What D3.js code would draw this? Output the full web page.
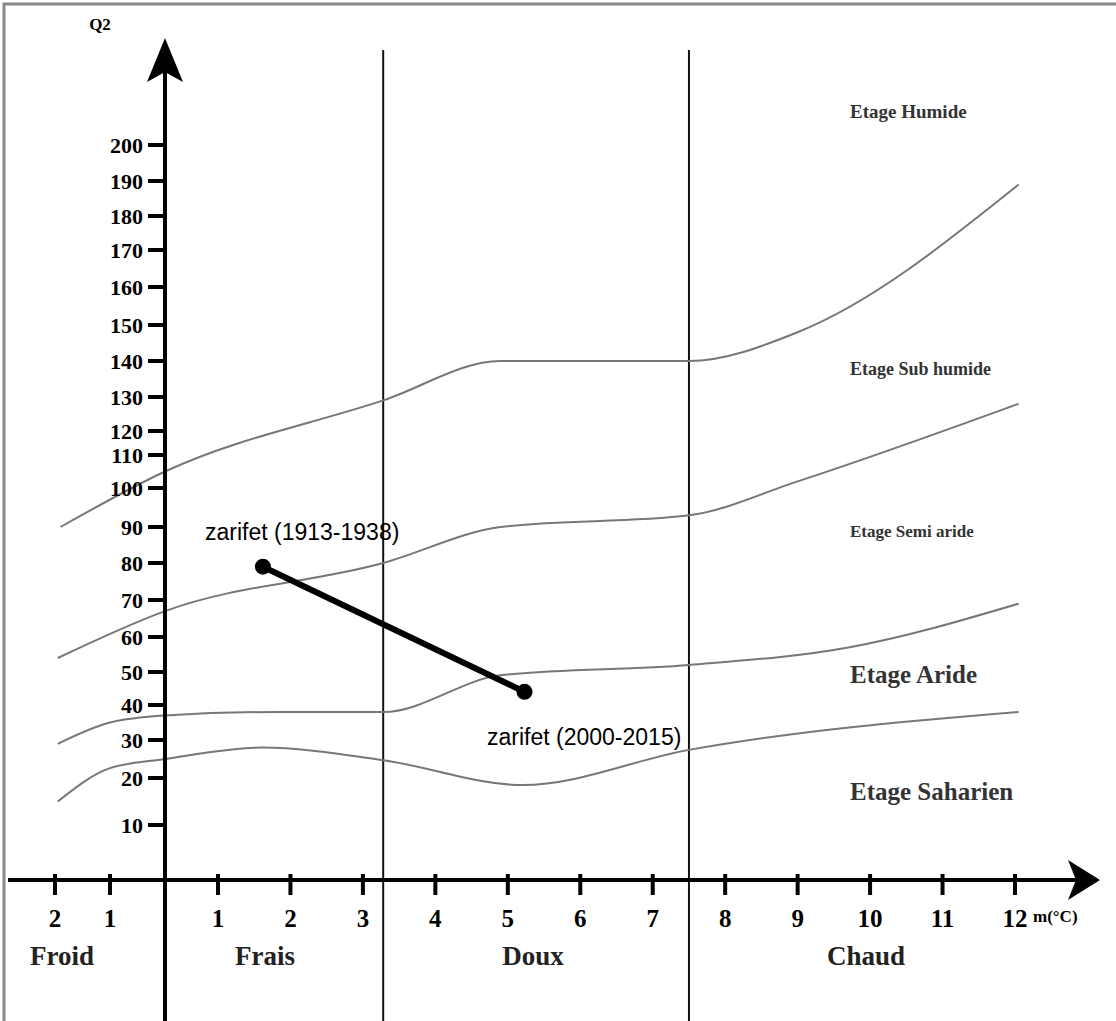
<!DOCTYPE html>
<html><head><meta charset="utf-8">
<script src="https://cdn.jsdelivr.net/npm/d3@7"></script>
<style>body{margin:0;background:#fff}</style></head>
<body><svg id="c" width="1116" height="1021"></svg>
<script>
// tick values of both axes (scan is hand drawn, so spacing is uneven)
var xTicks = [-2, -1, 1, 2, 3, 4, 5, 6, 7, 8, 9, 10, 11, 12];
var yTicks = [10, 20, 30, 40, 50, 60, 70, 80, 90, 100, 110, 120, 130, 140, 150, 160, 170, 180, 190, 200];
var yTickPos = [825, 778, 740, 705, 672, 637, 600, 563, 527, 488, 455, 431, 397, 361, 325, 287, 250, 216, 181, 145];

// stage boundaries, [m, Q2]
var humideSub = [[-1.9, 90], [0, 105], [3.28, 129], [4.9, 140], [7.5, 140], [9.0, 148], [12.05, 189]];
var subSemi = [[-1.95, 54], [0, 67], [3.28, 80], [4.9, 90], [7.5, 93], [9.0, 102], [12.05, 128]];
var semiAride = [[-1.95, 29], [-1, 35], [0, 37], [1.8, 38], [3.28, 38], [4.9, 49], [7.5, 52], [9.7, 57], [12.05, 69]];
var arideSah = [[-1.95, 15], [-1, 22.6], [0, 25], [1.6, 28], [3.28, 24.7], [5.2, 18.5], [7.5, 27.4], [12.05, 38]];
var curves = [humideSub, subSemi, semiAride, arideSah];

var stations = [{name: "zarifet (1913-1938)", m: 1.62, q: 79}, {name: "zarifet (2000-2015)", m: 5.23, q: 44}];
var stages = [{t: "Etage Humide", y: 118, s: 19}, {t: "Etage Sub humide", y: 375, s: 18}, {t: "Etage Semi aride", y: 537, s: 17},
  {t: "Etage Aride", y: 683, s: 25}, {t: "Etage Saharien", y: 800, s: 25}];
var zones = [{t: "Froid", x: 62}, {t: "Frais", x: 265}, {t: "Doux", x: 533}, {t: "Chaud", x: 866}];
var limits = [3.28, 7.5];

var x = d3.scaleLinear().domain([-2, 0, 1, 12]).range([55, 165, 218, 1015]);
var y = d3.scaleLinear().domain([0].concat(yTicks)).range([880].concat(yTickPos));
var svg = d3.select("#c");
var serif = "'Liberation Serif','DejaVu Serif',serif";

svg.append("rect").attr("x", 4).attr("y", 4).attr("width", 1140).attr("height", 1040)
  .attr("fill", "none").attr("stroke", "#888").attr("stroke-width", 3);

limits.forEach(function(m) {
  svg.append("line").attr("x1", x(m)).attr("x2", x(m)).attr("y1", 50).attr("y2", 1021)
    .attr("stroke", "#111").attr("stroke-width", 2);
});

var line = d3.line().x(function(d) { return x(d[0]); }).y(function(d) { return y(d[1]); }).curve(d3.curveMonotoneX);
curves.forEach(function(c) {
  svg.append("path").attr("d", line(c)).attr("fill", "none").attr("stroke", "#777").attr("stroke-width", 2);
});

// axes
svg.append("line").attr("x1", 8).attr("x2", 1085).attr("y1", 880).attr("y2", 880).attr("stroke", "#000").attr("stroke-width", 4);
svg.append("path").attr("d", "M1100,880 L1068,860 L1076,880 L1068,900Z");
svg.append("line").attr("x1", 165).attr("x2", 165).attr("y1", 55).attr("y2", 1021).attr("stroke", "#000").attr("stroke-width", 4);
svg.append("path").attr("d", "M165,38 L147,82 L165,72 L183,82Z");

xTicks.forEach(function(t) {
  svg.append("line").attr("x1", x(t)).attr("x2", x(t)).attr("y1", 874).attr("y2", 895).attr("stroke", "#000").attr("stroke-width", 4);
  svg.append("text").attr("x", x(t)).attr("y", 927).attr("text-anchor", "middle")
    .attr("font-family", serif).attr("font-weight", "bold").attr("font-size", 25).text(Math.abs(t));
});
svg.append("text").attr("x", 1033).attr("y", 922).attr("font-family", serif).attr("font-weight", "bold").attr("font-size", 17).text("m(°C)");

yTicks.forEach(function(t, i) {
  svg.append("line").attr("x1", 148).attr("x2", 165).attr("y1", yTickPos[i]).attr("y2", yTickPos[i]).attr("stroke", "#000").attr("stroke-width", 4);
  svg.append("text").attr("x", 143).attr("y", yTickPos[i] + 8).attr("text-anchor", "end")
    .attr("font-family", serif).attr("font-weight", "bold").attr("font-size", 22).text(t);
});
svg.append("text").attr("x", 100).attr("y", 30).attr("text-anchor", "middle").attr("font-family", serif).attr("font-weight", "bold").attr("font-size", 17).text("Q2");

stages.forEach(function(s) {
  svg.append("text").attr("x", 850).attr("y", s.y).attr("font-family", serif).attr("font-weight", "bold")
    .attr("font-size", s.s).attr("fill", "#333").text(s.t);
});
zones.forEach(function(z) {
  svg.append("text").attr("x", z.x).attr("y", 965).attr("text-anchor", "middle").attr("font-family", serif)
    .attr("font-weight", "bold").attr("font-size", 27).attr("fill", "#222").text(z.t);
});

svg.append("line").attr("x1", x(stations[0].m)).attr("y1", y(stations[0].q)).attr("x2", x(stations[1].m)).attr("y2", y(stations[1].q))
  .attr("stroke", "#000").attr("stroke-width", 6);
stations.forEach(function(s) {
  svg.append("circle").attr("cx", x(s.m)).attr("cy", y(s.q)).attr("r", 8).attr("fill", "#000");
});
svg.append("text").attr("x", 205).attr("y", 540).attr("font-family", "'Liberation Sans',Arial,sans-serif").attr("font-size", 23).text(stations[0].name);
svg.append("text").attr("x", 487).attr("y", 745).attr("font-family", "'Liberation Sans',Arial,sans-serif").attr("font-size", 23).text(stations[1].name);
</script></body></html>
